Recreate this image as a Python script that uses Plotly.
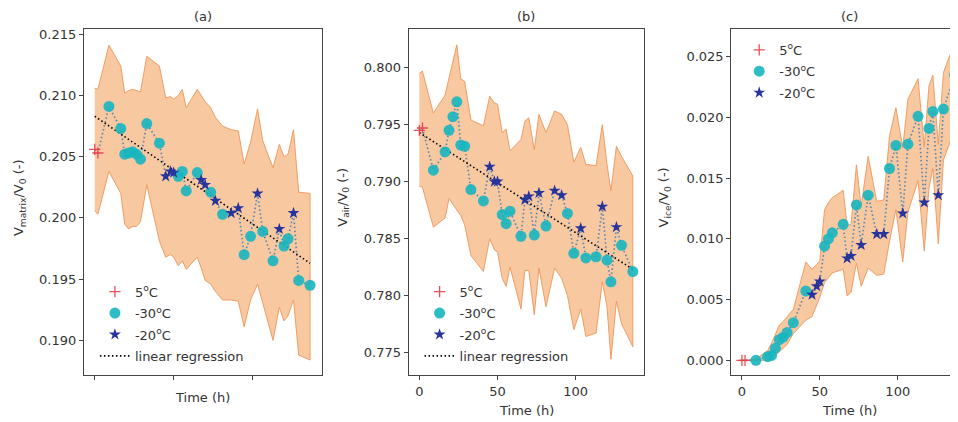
import plotly.graph_objects as go

# ---------------- data ----------------
time_h = [0, 2, 9, 16.5, 19, 21.5, 24, 26.5, 29, 33, 41, 45, 48, 50, 53, 55.5, 58, 65,
          67.5, 70, 73.5, 76.5, 81, 86.5, 91, 94.7, 98.8, 103.2, 106.5, 113, 117, 120,
          122.5, 126, 129.3, 136.5]

temp_group = (['5'] * 2 + ['-30'] * 9 + ['-20'] * 3 + ['-30'] * 4 + ['-20'] * 2 + ['-30'] +
              ['-20'] + ['-30'] + ['-20'] * 2 + ['-30'] * 2 + ['-20'] + ['-30'] * 2 + ['-20'] +
              ['-30'] * 2 + ['-20'] + ['-30'] * 2)

# panel (a): V_matrix / V_0
a_val = [0.2056, 0.2053, 0.2091, 0.2073, 0.2052, 0.2053, 0.2054, 0.2052, 0.2048, 0.2077,
         0.2061, 0.2034, 0.2038, 0.2037, 0.2034, 0.2038, 0.2022, 0.2037, 0.2031, 0.2027,
         0.2021, 0.2014, 0.2003, 0.2004, 0.2008, 0.1970, 0.1985, 0.2020, 0.1989, 0.1965,
         0.1991, 0.1977, 0.1983, 0.2004, 0.1949, 0.1945]
a_upper = [0.2106, 0.2105, 0.2141, 0.2124, 0.2102, 0.2104, 0.2105, 0.2104, 0.2103, 0.2132,
           0.2124, 0.2098, 0.2099, 0.2097, 0.2100, 0.2105, 0.2090, 0.2105, 0.2100, 0.2095,
           0.2090, 0.2082, 0.2075, 0.2072, 0.2071, 0.2044, 0.2062, 0.2089, 0.2063, 0.2041,
           0.2060, 0.2050, 0.2052, 0.2072, 0.2021, 0.2020]
a_lower = [0.2006, 0.2003, 0.2038, 0.2020, 0.1995, 0.1991, 0.1993, 0.1993, 0.1997, 0.2027,
           0.1981, 0.1968, 0.1970, 0.1968, 0.1961, 0.1965, 0.1958, 0.1968, 0.1959, 0.1949,
           0.1946, 0.1940, 0.1933, 0.1933, 0.1932, 0.1911, 0.1933, 0.1946, 0.1930, 0.1900,
           0.1927, 0.1916, 0.1920, 0.1933, 0.1888, 0.1884]

# panel (b): V_air / V_0
b_val = [0.7945, 0.7947, 0.7910, 0.7926, 0.7945, 0.7957, 0.7970, 0.7932, 0.7931, 0.7893,
         0.7883, 0.7913, 0.7900, 0.7900, 0.7871, 0.7863, 0.7874, 0.7852, 0.7884, 0.7887,
         0.7853, 0.7890, 0.7861, 0.7892, 0.7888, 0.7872, 0.7837, 0.7859, 0.7833, 0.7834,
         0.7878, 0.7831, 0.7812, 0.7860, 0.7844, 0.7821]
b_upper = [0.7995, 0.7997, 0.7960, 0.7976, 0.7991, 0.8005, 0.8020, 0.7990, 0.7988, 0.7954,
           0.7949, 0.7975, 0.7969, 0.7968, 0.7943, 0.7946, 0.7927, 0.7937, 0.7953, 0.7956,
           0.7928, 0.7959, 0.7943, 0.7962, 0.7959, 0.7950, 0.7917, 0.7930, 0.7915, 0.7914,
           0.7950, 0.7915, 0.7892, 0.7931, 0.7922, 0.7905]
b_lower = [0.7896, 0.7895, 0.7860, 0.7868, 0.7885, 0.7880, 0.7875, 0.7870, 0.7862, 0.7835,
           0.7821, 0.7850, 0.7840, 0.7838, 0.7815, 0.7808, 0.7825, 0.7788, 0.7822, 0.7822,
           0.7783, 0.7824, 0.7790, 0.7824, 0.7815, 0.7800, 0.7770, 0.7788, 0.7764, 0.7767,
           0.7812, 0.7790, 0.7744, 0.7795, 0.7775, 0.7755]

# panel (c): V_ice / V_0
c_val = [0.0, 0.0, 0.0, 0.0003, 0.0004, 0.0010, 0.0017, 0.0019, 0.0023, 0.0031,
         0.0057, 0.0054, 0.0061, 0.0065, 0.0094, 0.0100, 0.0105, 0.0112, 0.0084, 0.0086,
         0.0128, 0.0095, 0.0136, 0.0104, 0.0104, 0.0158, 0.0177, 0.0121, 0.0178, 0.0201,
         0.0130, 0.0191, 0.0205, 0.0136, 0.0207, 0.0235]
c_upper = [0.0, 0.0, 0.0001, 0.0008, 0.0014, 0.0022, 0.0029, 0.0032, 0.0036, 0.0042,
           0.0081, 0.0075, 0.0079, 0.0082, 0.0124, 0.0130, 0.0134, 0.0140, 0.0111, 0.0112,
           0.0161, 0.0127, 0.0168, 0.0131, 0.0132, 0.0185, 0.0208, 0.0175, 0.0215, 0.0232,
           0.0176, 0.0226, 0.0235, 0.0178, 0.0237, 0.0262]
c_lower = [0.0, 0.0, 0.0, 0.0, 0.0001, 0.0004, 0.0007, 0.0010, 0.0013, 0.0022,
           0.0033, 0.0036, 0.0045, 0.0052, 0.0064, 0.0068, 0.0072, 0.0075, 0.0053, 0.0056,
           0.0080, 0.0061, 0.0076, 0.0070, 0.0071, 0.0098, 0.0124, 0.0081, 0.0122, 0.0148,
           0.0090, 0.0142, 0.0158, 0.0096, 0.0165, 0.0190]

reg_time = [0, 136.5]
reg_a = [0.2083, 0.1963]
reg_b = [0.7943, 0.7823]

legend_labels = {'5': '5<sup>o</sup>C', '-30': '-30<sup>o</sup>C', '-20': '-20<sup>o</sup>C'}
reg_label = 'linear regression'

# ---------------- styling ----------------
# the page body keeps the browser's default 8px margin, so the figure is drawn
# 8px in from the top-left; all pixel positions below are window pixels.
OFF = 8
W, H = 958 - OFF, 422 - OFF
FONT = 'DejaVu Sans'
TXT = '#333333'
AXC = '#444444'
BAND_FILL = 'rgba(244,164,96,0.6)'
BAND_EDGE = 'rgba(238,150,90,0.9)'
CONNECT = 'rgba(70,130,180,0.9)'
DOT = '1.5px,2.5px'
MARK = {
    '5': dict(symbol='cross-thin', size=8, color='rgba(232,60,70,0.9)',
              line=dict(width=1.3, color='rgba(232,60,70,0.9)')),
    '-30': dict(symbol='circle', size=11, color='rgba(23,182,192,0.9)', line=dict(width=0)),
    '-20': dict(symbol='star', size=9, color='rgb(38,52,155)', line=dict(width=0)),
}


def px_x(p):
    return (p - OFF) / W


def px_y(p):
    return 1 - (p - OFF) / H


fig = go.Figure()


def add_panel(idx, vals, up, lo, reg, legname):
    xa = 'x' if idx == 1 else f'x{idx}'
    ya = 'y' if idx == 1 else f'y{idx}'
    fig.add_trace(go.Scatter(
        x=time_h + time_h[::-1], y=up + lo[::-1], mode='lines', fill='toself',
        fillcolor=BAND_FILL, line=dict(color=BAND_EDGE, width=1),
        showlegend=False, hoverinfo='skip', xaxis=xa, yaxis=ya))
    fig.add_trace(go.Scatter(
        x=time_h, y=vals, mode='lines', line=dict(color=CONNECT, width=1.7, dash=DOT),
        showlegend=False, xaxis=xa, yaxis=ya))
    if reg is not None:
        fig.add_trace(go.Scatter(
            x=reg_time, y=reg, mode='lines', name=reg_label,
            line=dict(color='black', width=1.6, dash=DOT),
            legend=legname, legendgroup=legname + 'reg', legendrank=4,
            xaxis=xa, yaxis=ya))
    for rank, g in enumerate(['5', '-30', '-20']):
        xs = [t for t, gg in zip(time_h, temp_group) if gg == g]
        ys = [v for v, gg in zip(vals, temp_group) if gg == g]
        fig.add_trace(go.Scatter(
            x=xs, y=ys, mode='markers', name=legend_labels[g], marker=MARK[g],
            legend=legname, legendgroup=legname + g, legendrank=rank + 1,
            xaxis=xa, yaxis=ya))


add_panel(1, a_val, a_upper, a_lower, reg_a, 'legend')
add_panel(2, b_val, b_upper, b_lower, reg_b, 'legend2')
add_panel(3, c_val, c_upper, c_lower, None, 'legend3')

TOP, BOT = 27, 375
panels = [
    dict(l=84, r=322, xr=[-6.85, 143.85], yr=[0.18716, 0.21543],
         yt=[0.190, 0.195, 0.200, 0.205, 0.210, 0.215], xl=False),
    dict(l=409, r=645, xr=[-6.85, 143.85], yr=[0.7730, 0.8034],
         yt=[0.775, 0.780, 0.785, 0.790, 0.795, 0.800], xl=True),
    dict(l=732, r=958, xr=[-6.85, 138.0], yr=[-0.00123, 0.0273],
         yt=[0.000, 0.005, 0.010, 0.015, 0.020, 0.025], xl=True),
]

axis_common = dict(showgrid=False, zeroline=False, showline=True, linecolor=AXC, linewidth=1,
                   mirror=True, ticks='outside', ticklen=4, tickwidth=1, tickcolor=AXC,
                   tickfont=dict(family=FONT, size=13, color=TXT))

layout = dict(width=W, height=H, margin=dict(l=0, r=0, t=0, b=0),
              paper_bgcolor='white', plot_bgcolor='white',
              font=dict(family=FONT, size=13, color=TXT))

for i, p in enumerate(panels, start=1):
    xk = 'xaxis' if i == 1 else f'xaxis{i}'
    yk = 'yaxis' if i == 1 else f'yaxis{i}'
    ya = 'y' if i == 1 else f'y{i}'
    xa = 'x' if i == 1 else f'x{i}'
    layout[xk] = dict(axis_common, domain=[px_x(p['l']), min(1.0, px_x(p['r']))], range=p['xr'],
                      tickvals=[0, 50, 100], showticklabels=p['xl'], anchor=ya)
    layout[yk] = dict(axis_common, domain=[px_y(BOT), px_y(TOP)], range=p['yr'],
                      tickvals=p['yt'], tickformat='.3f', anchor=xa)

leg_common = dict(bgcolor='rgba(0,0,0,0)', borderwidth=0, xanchor='left', yanchor='top',
                  font=dict(family=FONT, size=13, color=TXT), tracegroupgap=1.5,
                  itemwidth=30, traceorder='grouped')
layout['legend'] = dict(leg_common, x=px_x(95), y=px_y(276))
layout['legend2'] = dict(leg_common, x=px_x(420), y=px_y(276))
layout['legend3'] = dict(leg_common, x=px_x(740), y=px_y(33))

ann = []
titles = ['(a)', '(b)', '(c)']
centers = [(84 + 322) / 2, (409 + 645) / 2, (732 + 969) / 2]
for t, c in zip(titles, centers):
    ann.append(dict(text=t, x=px_x(c), y=px_y(15), xref='paper', yref='paper',
                    showarrow=False, xanchor='center', yanchor='middle',
                    font=dict(family=FONT, size=13, color=TXT)))
ylabels = [('V<sub>matrix</sub>/V<sub>0</sub> (-)', 19),
           ('V<sub>air</sub>/V<sub>0</sub> (-)', 343),
           ('V<sub>ice</sub>/V<sub>0</sub> (-)', 665)]
for t, xpx in ylabels:
    ann.append(dict(text=t, x=px_x(xpx), y=px_y(196), xref='paper', yref='paper',
                    showarrow=False, textangle=-90, xanchor='center', yanchor='middle',
                    font=dict(family=FONT, size=13, color=TXT)))
xlabels = [((84 + 322) / 2, 397), ((409 + 645) / 2, 410), ((732 + 969) / 2, 410)]
for xpx, ypx in xlabels:
    ann.append(dict(text='Time (h)', x=px_x(xpx), y=px_y(ypx), xref='paper', yref='paper',
                    showarrow=False, xanchor='center', yanchor='middle',
                    font=dict(family=FONT, size=13, color=TXT)))
layout['annotations'] = ann

fig.update_layout(**layout)
fig.write_html('out.html')
